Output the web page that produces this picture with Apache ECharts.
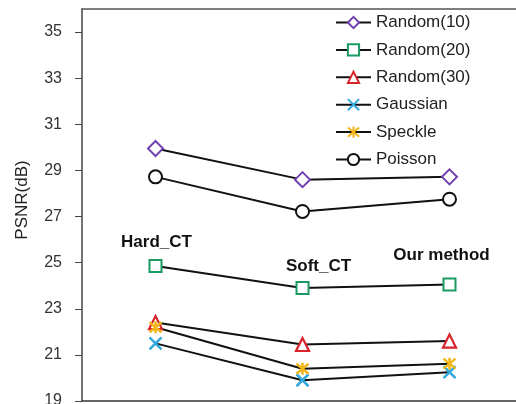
<!DOCTYPE html>
<html>
<head>
<meta charset="utf-8">
<script src="https://cdn.jsdelivr.net/npm/echarts@6/dist/echarts.min.js"></script>
<style>html,body{margin:0;padding:0;background:#fff}#c{width:516px;height:404px}</style>
</head>
<body>
<div id="c"></div>
<script>
const categories = ['Hard_CT', 'Soft_CT', 'Our method'];
const seriesNames = ['Random(10)', 'Random(20)', 'Random(30)', 'Gaussian', 'Speckle', 'Poisson'];
const random10 = [29.95, 28.6, 28.72];
const random20 = [24.85, 23.9, 24.05];
const random30 = [22.4, 21.45, 21.6];
const gaussian = [21.5, 19.9, 20.25];
const speckle = [22.2, 20.4, 20.62];
const poisson = [28.72, 27.22, 27.75];
const yTicks = [19, 21, 23, 25, 27, 29, 31, 33, 35];

const font = 'Arial, "Liberation Sans", sans-serif';
const labelOffsets = [[1, -8], [16, -6], [-8, -14]];

function mk(name, data, symbol, size, color, fill, bw, extra) {
  return Object.assign({
    name: name, type: 'line', data: data, symbol: symbol, symbolSize: size,
    lineStyle: { color: '#111', width: 2 },
    itemStyle: { color: fill, borderColor: color, borderWidth: bw },
    z: 2
  }, extra || {});
}

const r20data = random20.map((v, i) => ({
  value: v,
  label: {
    show: true, position: 'top', distance: 0, offset: labelOffsets[i],
    formatter: categories[i], fontFamily: font, fontWeight: 'bold',
    fontSize: 17, color: '#111'
  }
}));

const chart = echarts.init(document.getElementById('c'));
chart.setOption({
  animation: false,
  grid: { left: 82, top: 9, width: 441, height: 392, outerBoundsMode: 'none', containLabel: false },
  legend: {
    orient: 'vertical', left: 335, top: 14, padding: 0, itemWidth: 35, itemHeight: 14, itemGap: 10.4,
    textStyle: { fontFamily: font, fontSize: 17, color: '#222' },
    data: seriesNames
  },
  xAxis: [{
    type: 'category', data: categories, boundaryGap: true,
    axisLine: { lineStyle: { color: '#333', width: 1.5 } },
    axisTick: { show: false }, axisLabel: { show: false }, splitLine: { show: false }
  }, {
    type: 'category', data: categories, boundaryGap: true, position: 'top',
    axisLine: { show: true, lineStyle: { color: '#555', width: 1.5 } },
    axisTick: { show: false }, axisLabel: { show: false }, splitLine: { show: false }
  }],
  yAxis: {
    type: 'value', min: 19, max: 36, interval: 2,
    name: 'PSNR(dB)', nameLocation: 'middle', nameGap: 51, nameRotate: 90,
    nameTextStyle: { fontFamily: font, fontSize: 17, color: '#222', padding: [0, 0, 0, 10] },
    axisLine: { show: true, lineStyle: { color: '#444', width: 1.5 } },
    axisTick: { show: true, inside: false, length: 7, customValues: yTicks, lineStyle: { color: '#444' } },
    axisLabel: { customValues: yTicks, fontFamily: font, fontSize: 16, color: '#333', margin: 20 },
    splitLine: { show: false }
  },
  series: [
    mk(seriesNames[0], random10, 'diamond', 15, '#7040b0', '#fff', 2),
    mk(seriesNames[1], r20data, 'rect', 12, '#1a9a60', '#fff', 2),
    mk(seriesNames[2], random30, 'triangle', 13, '#d8232a', '#fff', 2.2),
    mk(seriesNames[3], gaussian, 'path://M0,0L10,10M10,0L0,10', 12, '#33a8dc', '#33a8dc', 2.5),
    mk(seriesNames[4], speckle, 'path://M0,0L10,10M10,0L0,10M5,-1L5,11', 12, '#f2b51a', '#f2b51a', 2.5),
    mk(seriesNames[5], poisson, 'circle', 13, '#111', '#fff', 2)
  ]
});
</script>
</body>
</html>
